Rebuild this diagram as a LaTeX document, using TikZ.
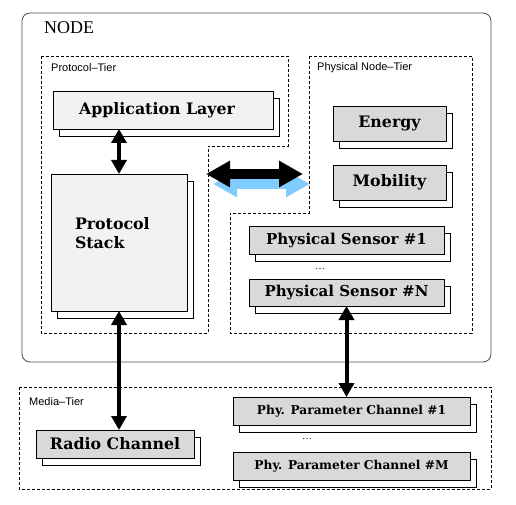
\documentclass[tikz,border=0pt]{standalone}
\usepackage{fontspec}
\setmainfont{Liberation Serif}
\newfontfamily\boxfont{DejaVu Serif}
\newfontfamily\tierfont{Liberation Sans}
\usetikzlibrary{arrows.meta,shadows}

\definecolor{lightfill}{HTML}{F2F2F2}
\definecolor{darkfill}{HTML}{D9D9D9}
\definecolor{shadowblue}{HTML}{80CCFF}

\tikzset{
  layer/.style={draw, line width=0.8pt, fill=lightfill, inner sep=0pt, outer sep=0pt,
    font=\boxfont\bfseries\fontsize{15.8}{19}\selectfont,
    general shadow={shadow xshift=6pt, shadow yshift=-7pt, fill=white, draw=black, line width=0.8pt}},
  unit/.style={layer, fill=darkfill},
  tier/.style={draw, line width=0.6pt, dash pattern=on 3pt off 2pt},
  tierlabel/.style={anchor=west, inner sep=0pt, font=\tierfont\fontsize{11}{13}\selectfont},
  link/.style={line width=4pt, {Triangle[width=15pt,length=14pt]}-{Triangle[width=15pt,length=14pt]}},
  biglink/.style={line width=10pt, {Triangle[width=25pt,length=24pt]}-{Triangle[width=25pt,length=24pt]}},
}

\begin{document}
\begin{tikzpicture}[x=1pt,y=-1pt]
    \useasboundingbox (0,0) rectangle (516,505);

    % node frame and tiers
    \draw[black!70, line width=0.8pt, rounded corners=8pt] (22,13) rectangle (491,362);
    \node[anchor=west, inner sep=0pt, font=\fontsize{18}{20}\selectfont] (NodeTitle) at (44,28) {NODE};

    \draw[tier] (41,56) -- (288,56) -- (288,146) -- (208,146) -- (208,333) -- (41,333) -- cycle;
    \draw[tier] (309,56) -- (472,56) -- (472,333) -- (230,333) -- (230,213) -- (309,213) -- cycle;
    \draw[tier] (19,387) rectangle (491,489);

    \node[tierlabel] (ProtocolTier) at (51,68) {Protocol\textendash Tier};
    \node[tierlabel] (PhysicalTier) at (317,68) {Physical Node\textendash Tier};
    \node[tierlabel] (MediaTier) at (29,402) {Media\textendash Tier};

    % protocol tier
    \node[layer, minimum width=220pt, minimum height=38pt] (AppLayer) at (163,110) {Application Layer\hspace*{12pt}};
    \node[layer, minimum width=136pt, minimum height=137pt, text width=88pt, align=left,
          text depth=38pt] (ProtocolStack) at (119,242.5) {Protocol\\Stack};

    % physical node tier
    \node[unit, minimum width=113pt, minimum height=35pt] (Energy) at (389.5,123.5) {Energy};
    \node[unit, minimum width=113pt, minimum height=35pt] (Mobility) at (389.5,182.5) {Mobility};
    \node[unit, minimum width=195pt, minimum height=28pt, font=\boxfont\bfseries\fontsize{15}{18}\selectfont]
          (SensorOne) at (346.5,240) {Physical Sensor \#1};
    \node[font=\fontsize{10}{12}\selectfont] (SensorDots) at (320,269) {\ldots};
    \node[unit, minimum width=195pt, minimum height=27pt, font=\boxfont\bfseries\fontsize{15}{18}\selectfont]
          (SensorN) at (346.5,292.5) {Physical Sensor \#N};

    % media tier
    \node[unit, minimum width=158pt, minimum height=28pt] (RadioChannel) at (115,444) {Radio Channel};
    \node[unit, minimum width=237pt, minimum height=28pt, font=\boxfont\bfseries\fontsize{12.2}{15}\selectfont]
          (ChannelOne) at (351.5,411) {Phy. Parameter Channel \#1};
    \node[font=\fontsize{10}{12}\selectfont] (ChannelDots) at (307,439) {\ldots};
    \node[unit, minimum width=237pt, minimum height=28pt, font=\boxfont\bfseries\fontsize{12.2}{15}\selectfont]
          (ChannelM) at (351.5,466) {Phy. Parameter Channel \#M};

    % links
    \coordinate (TierLeft) at (206,174);
    \coordinate (TierRight) at (303,174);
    \draw[biglink, shadowblue] ([shift={(7,10)}]TierLeft) -- ([shift={(7,10)}]TierRight);
    \draw[biglink] (TierLeft) -- (TierRight);

    \draw[link] (ProtocolStack.north |- AppLayer.south) -- (ProtocolStack.north);
    \draw[link] (ProtocolStack.south) -- (ProtocolStack.south |- RadioChannel.north);
    \draw[link] (SensorN.south) -- (SensorN.south |- ChannelOne.north);

\end{tikzpicture}
\end{document}
